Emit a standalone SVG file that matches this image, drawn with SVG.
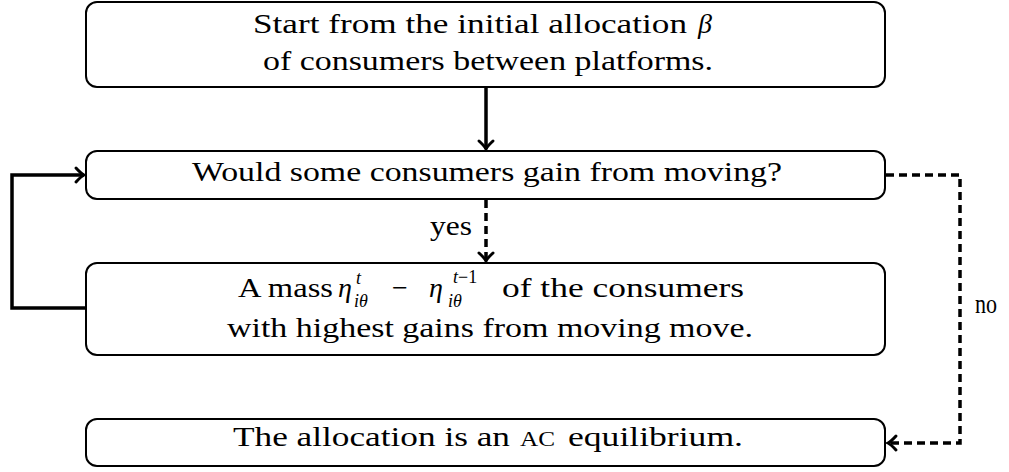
<svg xmlns="http://www.w3.org/2000/svg" width="1009" height="472" viewBox="0 0 1009 472">
  <style>
    .box { fill: #fff; stroke: #000; stroke-width: 2; }
    text { font-family: 'Liberation Serif', 'Times New Roman', Times, serif; fill: #000; }
    .t { font-size: 28px; }
    .m { font-style: italic; font-size: 28px; }
    .s { font-size: 18px; }
    .si { font-style: italic; font-size: 18px; }
    .conn { fill: none; stroke: #000; stroke-width: 3.5; }
    .dash { stroke-dasharray: 8 5; }
  </style>
  <defs>
    <marker id="arr" markerUnits="userSpaceOnUse" markerWidth="20" markerHeight="20" viewBox="-12 -10 14 20" refX="0" refY="0" orient="auto">
      <path d="M -8 -7 Q -3 -1.5 0 0 Q -3 1.5 -8 7" fill="none" stroke="#000" stroke-width="3" stroke-linecap="round"/>
    </marker>
  </defs>

  <g id="connectors">
    <path class="conn" d="M 486 87 L 486 149" marker-end="url(#arr)"/>
    <path class="conn dash" d="M 486 200 L 486 261" marker-end="url(#arr)"/>
    <path class="conn" d="M 86 308 L 12 308 L 12 175 L 84 175" marker-end="url(#arr)"/>
    <path class="conn dash" d="M 886 175 L 960 175 L 960 443 L 888 443" marker-end="url(#arr)"/>
    <text class="t" x="430" y="235" textLength="42" lengthAdjust="spacingAndGlyphs">yes</text>
    <text class="t" x="975" y="313" textLength="22" lengthAdjust="spacingAndGlyphs">no</text>
  </g>

  <g id="start">
    <rect class="box" x="86" y="2" width="799" height="85" rx="11"/>
    <text class="t" x="253" y="33" textLength="434" lengthAdjust="spacingAndGlyphs">Start from the initial allocation</text>
    <text class="m" x="698" y="33">β</text>
    <text class="t" x="263" y="70" textLength="450" lengthAdjust="spacingAndGlyphs">of consumers between platforms.</text>
  </g>

  <g id="question">
    <rect class="box" x="86" y="151" width="799" height="48" rx="11"/>
    <text class="t" x="192" y="181" textLength="590" lengthAdjust="spacingAndGlyphs">Would some consumers gain from moving?</text>
  </g>

  <g id="move">
    <rect class="box" x="86" y="263" width="799" height="92" rx="11"/>
    <text class="t" x="238" y="297" textLength="95" lengthAdjust="spacingAndGlyphs">A mass</text>
    <text class="m" x="338" y="297">η</text>
    <text class="si" x="356" y="284">t</text>
    <text class="si" x="354" y="307">iθ</text>
    <text class="t" x="392" y="297">−</text>
    <text class="m" x="429" y="297">η</text>
    <text class="si" x="453" y="283">t<tspan class="s" font-style="normal">−1</tspan></text>
    <text class="si" x="448" y="307">iθ</text>
    <text class="t" x="502" y="297" textLength="242" lengthAdjust="spacingAndGlyphs">of the consumers</text>
    <text class="t" x="227" y="337" textLength="526" lengthAdjust="spacingAndGlyphs">with highest gains from moving move.</text>
  </g>

  <g id="equilibrium">
    <rect class="box" x="86" y="419" width="799" height="47" rx="11"/>
    <text class="t" x="233" y="446" textLength="277" lengthAdjust="spacingAndGlyphs">The allocation is an</text>
    <text class="t" x="520" y="446" style="font-size:21px" textLength="35" lengthAdjust="spacingAndGlyphs">AC</text>
    <text class="t" x="568" y="446" textLength="175" lengthAdjust="spacingAndGlyphs">equilibrium.</text>
  </g>
</svg>
